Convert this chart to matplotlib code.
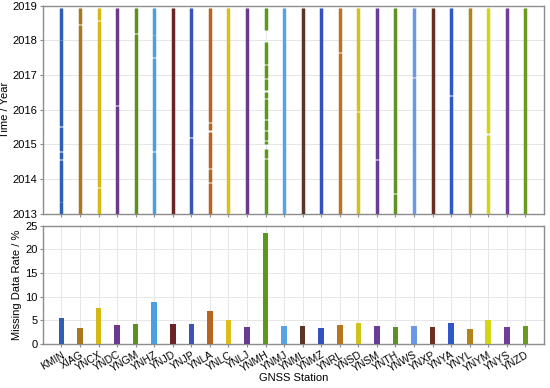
import matplotlib
matplotlib.use("Agg")
import matplotlib.pyplot as plt
import numpy as np

plt.rcParams['font.family'] = ['Liberation Sans', 'DejaVu Sans']

stations = ["KMIN", "XIAG", "YNCX", "YNDC", "YNGM", "YNHZ", "YNJD", "YNJP", "YNLA",
            "YNLC", "YNLJ", "YNMH", "YNMJ", "YNML", "YNMZ", "YNRL", "YNSD", "YNSM",
            "YNTH", "YNWS", "YNXP", "YNYA", "YNYL", "YNYM", "YNYS", "YNZD"]

missing_rate = [5.5, 3.4, 7.7, 4.1, 4.2, 9.0, 4.3, 4.2, 7.0, 5.0, 3.6, 23.5,
                3.9, 3.9, 3.5, 4.1, 4.4, 3.9, 3.7, 3.8, 3.7, 4.4, 3.3, 5.1, 3.7, 3.9]

colors = ["#2f5fb3", "#a8781c", "#d4b814", "#6b3a8c", "#5f8f1f", "#4a9fe0", "#6a2424",
          "#3a55b8", "#b5651d", "#d8bf1a", "#6a3a8e", "#5a9a18", "#5aa2e6", "#5a3426",
          "#3550c0", "#b8741e", "#cfc21a", "#6a3c96", "#5f9220", "#6a98e8", "#6a2e22",
          "#2e58c8", "#b08418", "#d6d412", "#6e3e9a", "#6a9a22"]

# observation period (decimal years)
obs_start = 2013.0
obs_end = 2018.95

# visible data gaps (decimal years) per station
gaps = {
    "KMIN": [(2015.49, 2015.53), (2014.79, 2014.82), (2014.56, 2014.59), (2013.33, 2013.35), (2018.0, 2018.02)],
    "XIAG": [(2018.45, 2018.47)],
    "YNCX": [(2013.74, 2013.78), (2018.55, 2018.58)],
    "YNDC": [(2016.12, 2016.14)],
    "YNGM": [(2018.2, 2018.22)],
    "YNHZ": [(2014.77, 2014.8), (2017.49, 2017.51), (2018.15, 2018.17)],
    "YNJD": [],
    "YNJP": [(2015.19, 2015.22)],
    "YNLA": [(2015.63, 2015.66), (2015.37, 2015.42), (2013.89, 2013.92), (2014.3, 2014.32)],
    "YNLC": [],
    "YNLJ": [],
    "YNMH": [(2017.95, 2018.3), (2014.88, 2015.0), (2016.52, 2016.56), (2016.3, 2016.33),
             (2015.7, 2015.73), (2015.4, 2015.42), (2014.58, 2014.61), (2017.3, 2017.33),
             (2016.9, 2016.92), (2015.1, 2015.12)],
    "YNMJ": [],
    "YNML": [],
    "YNMZ": [],
    "YNRL": [(2017.64, 2017.67)],
    "YNSD": [(2015.94, 2015.97)],
    "YNSM": [(2014.56, 2014.59)],
    "YNTH": [(2013.56, 2013.59)],
    "YNWS": [(2016.91, 2016.94)],
    "YNXP": [],
    "YNYA": [(2016.39, 2016.42)],
    "YNYL": [],
    "YNYM": [(2015.27, 2015.33)],
    "YNYS": [],
    "YNZD": [],
}

fig = plt.figure(figsize=(5.5, 3.88), dpi=100)
ax1 = fig.add_axes([0.078, 0.449, 0.911, 0.536])
ax2 = fig.add_axes([0.078, 0.113, 0.911, 0.305])

x = np.arange(len(stations))

for i, st in enumerate(stations):
    g = sorted(gaps[st])
    seg_start = obs_start
    segs = []
    for a, b in g:
        segs.append((seg_start, a))
        seg_start = b
    segs.append((seg_start, obs_end))
    for a, b in segs:
        ax1.vlines(x[i], a, b, color=colors[i], linewidth=2.5, zorder=3)

ax1.set_xlim(-1, len(stations))
ax1.set_ylim(2013, 2019)
ax1.set_yticks(range(2013, 2020))
ax1.set_xticks(x)
ax1.set_xticklabels([])
ax1.set_ylabel("Time / Year", fontsize=8, labelpad=2)

ax2.bar(x, missing_rate, width=0.3, color=colors, zorder=3)
ax2.set_xlim(-1, len(stations))
ax2.set_ylim(0, 25)
ax2.set_yticks(range(0, 26, 5))
ax2.set_xticks(x)
ax2.set_xticklabels(stations, rotation=30, ha="right", rotation_mode="anchor", fontsize=7.5)
ax2.set_ylabel("Missing Data Rate / %", fontsize=8, labelpad=2)
ax2.set_xlabel("GNSS Station", fontsize=8, labelpad=-1)

for ax in (ax1, ax2):
    ax.grid(True, color="#e6e6e6", linewidth=0.7, zorder=0)
    ax.set_axisbelow(True)
    for s in ax.spines.values():
        s.set_color("#8c8c8c")
        s.set_linewidth(1.0)
    ax.tick_params(axis="y", labelsize=8, length=2.5, color="#8c8c8c", pad=1.5)
    ax.tick_params(axis="x", length=2.5, color="#8c8c8c", pad=1.5)

fig.savefig("out.png", dpi=100)
